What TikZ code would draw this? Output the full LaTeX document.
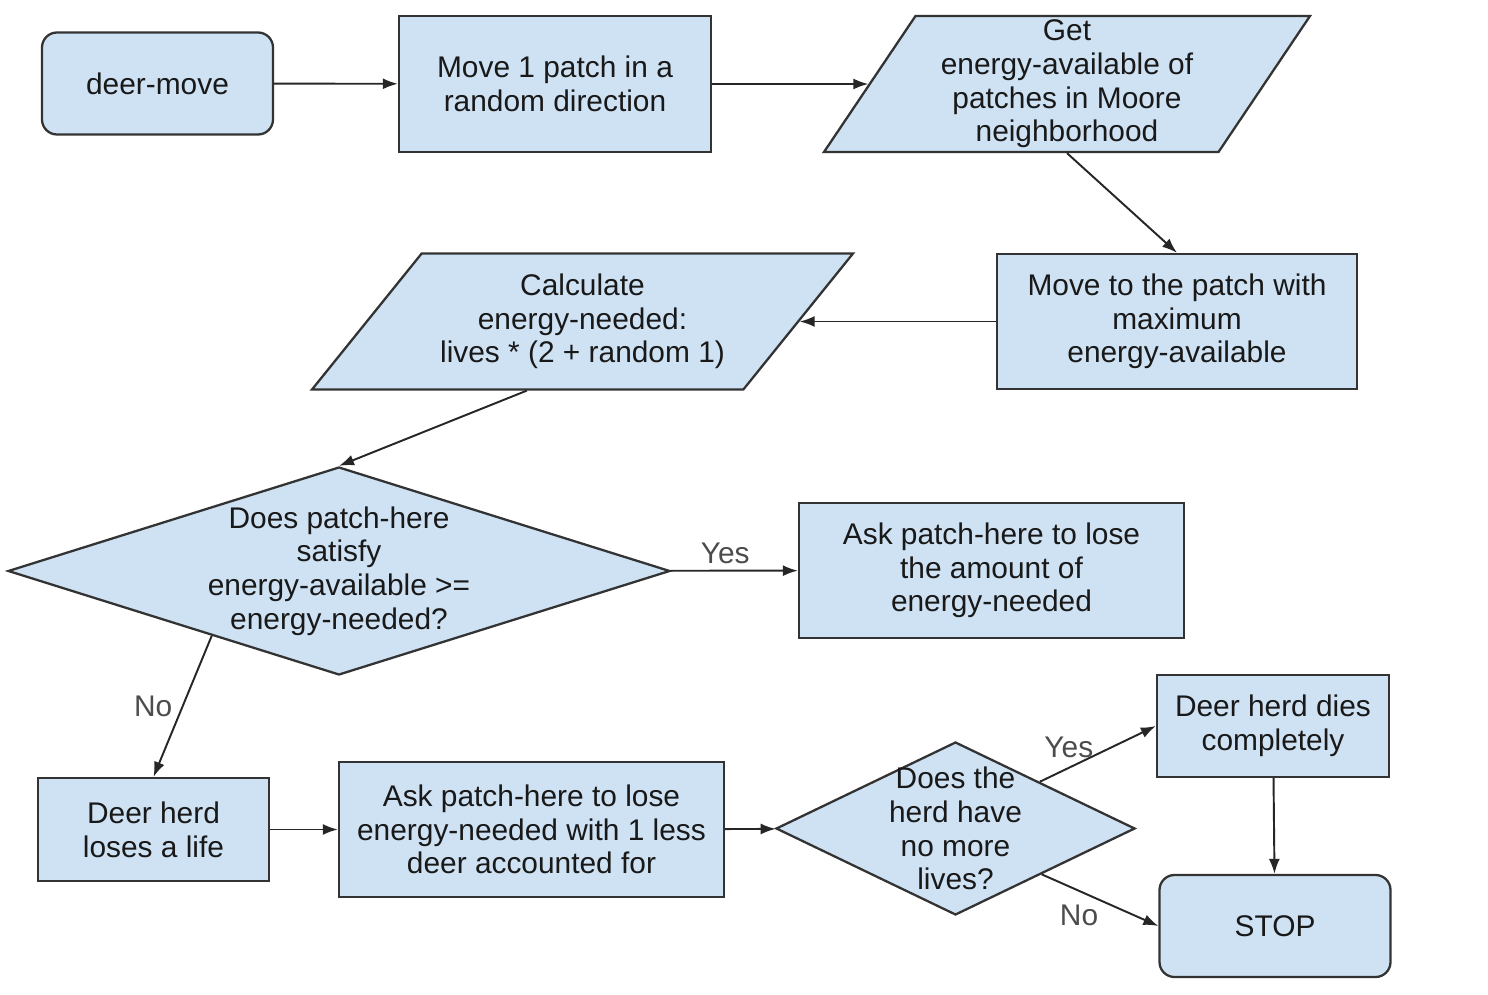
\documentclass[tikz,border=0pt]{standalone}
\usepackage{fontspec}
\setmainfont{Liberation Sans}
\usetikzlibrary{shapes.geometric,arrows.meta}
\definecolor{bleu}{HTML}{CFE2F3}
\definecolor{trait}{HTML}{333333}

\begin{document}
\begin{tikzpicture}[font=\fontsize{17}{19.2}\selectfont]
	\tikzset{boite/.style={rectangle, draw=trait, fill=bleu, line width=1.3pt, align=center, text=black!90, minimum width=7.7cm, minimum height=2.7cm, inner sep=0pt},
	debut/.style={boite, rounded corners=0.3cm, minimum width=4.62cm, minimum height=2.04cm},
	para/.style={boite, trapezium, trapezium stretches body, minimum height=2.72cm},
	losange/.style={boite, diamond},
	fleche/.style={draw=black!85, line width=1.1pt, -{Latex[length=3mm, width=2.2mm]}},
	etiq/.style={text=black!70}};

	\useasboundingbox (0, 0) rectangle (29.76, 19.88);

	\node[debut] (depart) at (3.15, 18.21) {deer-move};
	\node[boite, minimum width=6.24cm, minimum height=2.72cm] (bouge) at (11.10, 18.20) {Move 1 patch in a\\random direction};
	\node[para, trapezium left angle=54.5, trapezium right angle=125.5, minimum width=9.72cm] (voisins) at (21.34, 18.20) {Get\\energy-available of\\patches in Moore\\neighborhood};
	\node[boite, minimum width=7.2cm] (maxi) at (23.54, 13.45) {Move to the patch with\\maximum\\energy-available};
	\node[para, trapezium left angle=41, trapezium right angle=139, minimum width=10.82cm] (calcul) at (11.65, 13.45) {Calculate\\energy-needed:\\lives * (2 + random 1)};

	\node[losange, aspect=3.18, minimum width=13.24cm, minimum height=4.16cm, inner sep=-0.5mm] (test) at (6.78, 8.46) {Does patch-here\\satisfy\\energy-available >=\\energy-needed?};
	\node[boite] (mange) at (19.83, 8.47) {Ask patch-here to lose\\the amount of\\energy-needed};

	\node[boite, minimum width=4.62cm, minimum height=2.06cm] (vie) at (3.07, 3.29) {Deer herd\\loses a life};
	\node[boite] (perte) at (10.63, 3.29) {Ask patch-here to lose\\energy-needed with 1 less\\deer accounted for};
	\node[losange, aspect=2.075, minimum width=7.18cm, minimum height=3.46cm, inner sep=-1.5mm] (fin) at (19.11, 3.31) {Does the\\herd have\\no more\\lives?};
	\node[boite, minimum width=4.64cm, minimum height=2.04cm] (mort) at (25.46, 5.36) {Deer herd dies\\completely};
	\node[debut] (stop) at (25.50, 1.36) {STOP};

	\draw[fleche] (depart) -- (bouge);
	\draw[fleche] (bouge) -- (voisins.left side);
	\draw[fleche] (voisins.south) -- (maxi.north);
	\draw[fleche] (maxi) -- (calcul.right side);
	\draw[fleche] (calcul.bottom side) -- (test.north);

	\draw[fleche] (test) -- node[etiq, above, pos=0.43] {Yes} (mange);
	\draw[fleche] (test.207) -- node[etiq, left, xshift=-2pt] {No} (vie.north);

	\draw[fleche] (vie) -- (perte);
	\draw[fleche] (perte) -- (fin);
	\draw[fleche] (fin.29) -- node[etiq, above, pos=0.25, yshift=2pt] {Yes} (mort.west);
	\draw[fleche] (fin.332) -- node[etiq, below, pos=0.32, yshift=-4pt] {No} (stop.west);
	\draw[fleche] (mort) -- (stop);
\end{tikzpicture}
\end{document}
